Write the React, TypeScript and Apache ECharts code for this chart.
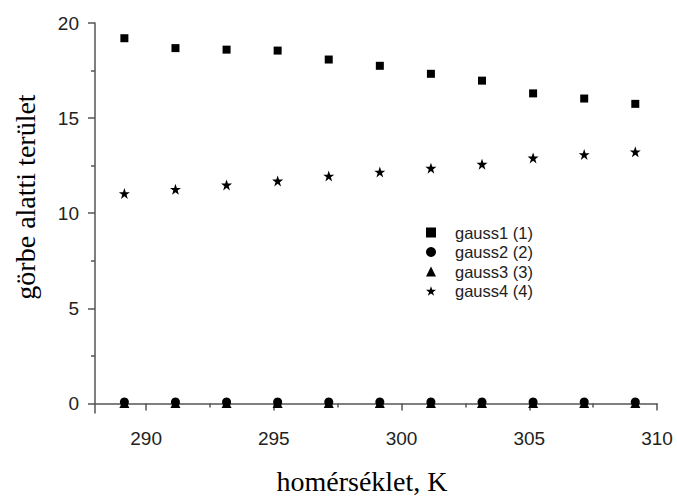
import React, { useEffect, useRef } from "react";
import * as echarts from "echarts";

// Temperatures (K) at which the fitted Gaussian components were evaluated
const temperatures = [289.15, 291.15, 293.15, 295.15, 297.15, 299.15, 301.15, 303.15, 305.15, 307.15, 309.15];

// Area under each Gaussian component
const gauss1 = [19.2, 18.68, 18.6, 18.55, 18.08, 17.75, 17.33, 16.97, 16.3, 16.03, 15.75];
const gauss2 = [0.08, 0.08, 0.08, 0.08, 0.08, 0.08, 0.08, 0.08, 0.08, 0.08, 0.08];
const gauss3 = [0.03, 0.03, 0.03, 0.03, 0.03, 0.03, 0.03, 0.03, 0.03, 0.03, 0.03];
const gauss4 = [11.04, 11.26, 11.49, 11.7, 11.96, 12.17, 12.37, 12.58, 12.91, 13.09, 13.23];

const seriesNames = ["gauss1 (1)", "gauss2 (2)", "gauss3 (3)", "gauss4 (4)"];

// Axis ticks
const xMajorTicks = [290, 295, 300, 305, 310];
const xMinorTicks = [292.5, 297.5, 302.5, 307.5];
const yMajorTicks = [0, 5, 10, 15, 20];
const yMinorTicks = [2.5, 7.5, 12.5, 17.5];

const xTitle = "homérséklet, K";
const yTitle = "görbe alatti terület";

const STAR =
  "path://M50,0 L61.8,35.4 L97.6,35.4 L68.6,57.3 L79.4,92.7 L50,70.8 L20.6,92.7 L31.4,57.3 L2.4,35.4 L38.2,35.4 Z";

const axisColor = "#555";
const labelFont = { fontFamily: "Liberation Sans, Arial, sans-serif", fontSize: 19, color: "#222" };
const markStyle = { color: "#000", opacity: 1 };

export default function App() {
  const ref = useRef<HTMLDivElement>(null);

  useEffect(() => {
    if (!ref.current) return;
    const chart = echarts.init(ref.current, undefined, { renderer: "svg" });

    const pairs = (ys: number[]) => temperatures.map((t, i) => [t, ys[i]]);

    const baseX = { type: "value", min: 288, max: 310, gridIndex: 0, position: "bottom", splitLine: { show: false } };
    const baseY = { type: "value", min: -0.5, max: 20, gridIndex: 0, position: "left", splitLine: { show: false } };

    chart.setOption({
      animation: false,
      backgroundColor: "#fff",
      grid: { left: 95, right: 20, top: 23, bottom: 88 },
      xAxis: [
        {
          ...baseX,
          axisLine: { show: true, lineStyle: { color: axisColor, width: 1.5 } },
          axisTick: { show: true, length: 7, customValues: xMajorTicks, lineStyle: { color: axisColor, width: 1.5 } },
          axisLabel: { show: true, margin: 16, customValues: xMajorTicks, ...labelFont },
        },
        {
          ...baseX,
          axisLine: { show: false },
          axisTick: { show: true, length: 4, customValues: xMinorTicks, lineStyle: { color: axisColor, width: 1.5 } },
          axisLabel: { show: false },
        },
      ],
      yAxis: [
        {
          ...baseY,
          axisLine: { show: true, lineStyle: { color: axisColor, width: 1.5 } },
          axisTick: { show: true, length: 7, customValues: yMajorTicks, lineStyle: { color: axisColor, width: 1.5 } },
          axisLabel: { show: true, margin: 16, customValues: yMajorTicks, ...labelFont },
        },
        {
          ...baseY,
          axisLine: { show: false },
          axisTick: { show: true, length: 4, customValues: yMinorTicks, lineStyle: { color: axisColor, width: 1.5 } },
          axisLabel: { show: false },
        },
      ],
      legend: {
        orient: "vertical",
        left: 421,
        top: 219,
        itemWidth: 10,
        itemHeight: 10,
        itemGap: 2.5,
        data: seriesNames,
        itemStyle: { opacity: 1 },
        textStyle: {
          fontFamily: "Liberation Sans, Arial, sans-serif",
          fontSize: 16.5,
          lineHeight: 16,
          color: "#222",
          padding: [0, 0, 0, 14],
        },
      },
      series: [
        {
          name: seriesNames[0],
          type: "scatter",
          symbol: "rect",
          symbolSize: 8,
          itemStyle: markStyle,
          data: pairs(gauss1),
        },
        {
          name: seriesNames[1],
          type: "scatter",
          symbol: "circle",
          symbolSize: 9,
          itemStyle: markStyle,
          data: pairs(gauss2),
        },
        {
          name: seriesNames[2],
          type: "scatter",
          symbol: "triangle",
          symbolSize: 10,
          itemStyle: markStyle,
          data: pairs(gauss3),
        },
        {
          name: seriesNames[3],
          type: "scatter",
          symbol: STAR,
          symbolSize: 11,
          itemStyle: markStyle,
          data: pairs(gauss4),
        },
      ],
      graphic: [
        {
          type: "text",
          x: 362,
          y: 481,
          style: {
            text: xTitle,
            font: "28px 'Liberation Serif', 'Times New Roman', serif",
            fill: "#000",
            align: "center",
            verticalAlign: "middle",
          },
        },
        {
          type: "text",
          x: 25,
          y: 197,
          rotation: Math.PI / 2,
          style: {
            text: yTitle,
            font: "28px 'Liberation Serif', 'Times New Roman', serif",
            fill: "#000",
            align: "center",
            verticalAlign: "middle",
          },
        },
      ],
    });

    return () => chart.dispose();
  }, []);

  return <div ref={ref} style={{ width: 677, height: 501, position: "absolute", left: 0, top: 0 }} />;
}
